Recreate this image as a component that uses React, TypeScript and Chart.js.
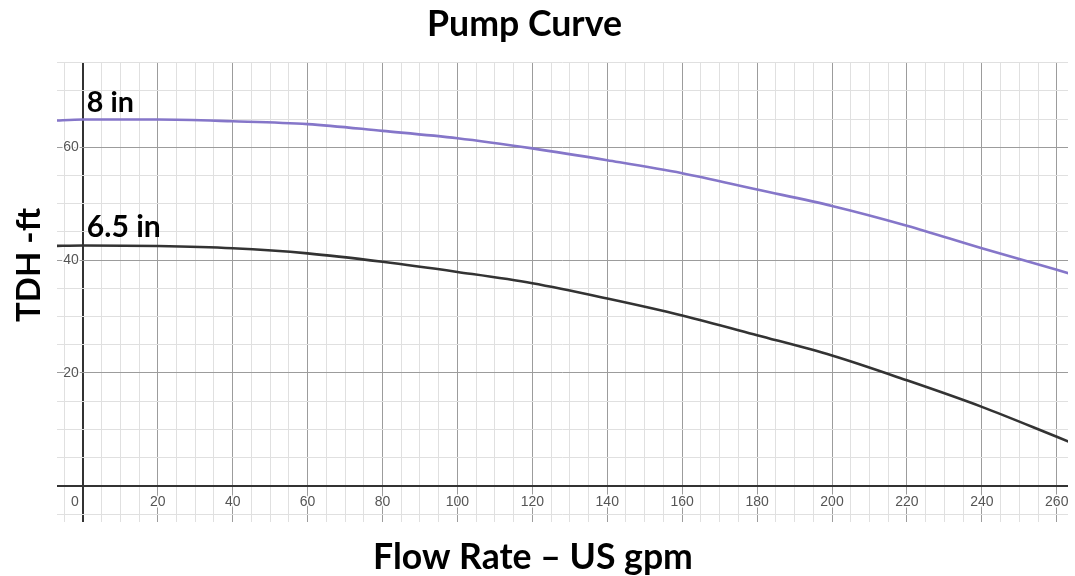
import { useEffect, useRef } from "react";
import { Chart, registerables } from "chart.js";

Chart.register(...registerables);

const TITLE = "Pump Curve";
const X_TITLE = "Flow Rate – US gpm";
const Y_TITLE = "TDH -ft";

const FLOW = [-8, 0, 20, 40, 60, 80, 100, 120, 140, 160, 180, 200, 220, 240, 260, 266];
const HEAD_8IN = [64.7, 64.9, 64.9, 64.6, 64.1, 62.9, 61.6, 59.8, 57.7, 55.4, 52.5, 49.6, 46.1, 42.1, 38.3, 37.1];
const HEAD_65IN = [42.5, 42.6, 42.5, 42.1, 41.2, 39.7, 37.9, 35.9, 33.2, 30.2, 26.7, 23.1, 18.7, 14.0, 8.7, 7.1];
const SERIES_LABELS = ["8 in", "6.5 in"];
const SERIES_COLORS = ["#8576c9", "#333333"];

const X_TICKS = [0, 20, 40, 60, 80, 100, 120, 140, 160, 180, 200, 220, 240, 260];
const Y_TICKS = [20, 40, 60];

const X_MIN = -6.9;
const X_MAX = 263.0;
const Y_MIN = -6.4;
const Y_MAX = 75.1;

function fitSize(ctx: CanvasRenderingContext2D, text: string, width: number, family: string) {
  ctx.font = `bold 100px ${family}`;
  const w = ctx.measureText(text).width;
  return (100 * width) / w;
}

const overlay = {
  id: "overlay",
  afterDraw(chart: any) {
    const { ctx, scales } = chart;
    const x = scales.x;
    const y = scales.y;
    const x0 = x.getPixelForValue(0);
    const y0 = y.getPixelForValue(0);
    ctx.save();

    // tick labels
    ctx.font = "14px 'Liberation Sans Narrow', 'Arial Narrow', 'Liberation Sans', sans-serif";
    ctx.fillStyle = "#555";
    ctx.strokeStyle = "#ffffff";
    ctx.lineWidth = 3;
    ctx.lineJoin = "round";
    ctx.textBaseline = "top";
    for (const v of X_TICKS) {
      const s = String(v);
      let px = x.getPixelForValue(v);
      if (v === 0) {
        ctx.textAlign = "right";
        px = x0 - 4;
      } else {
        ctx.textAlign = "center";
      }
      ctx.strokeText(s, px, y0 + 9);
      ctx.fillText(s, px, y0 + 9);
    }
    ctx.textAlign = "right";
    ctx.textBaseline = "middle";
    for (const v of Y_TICKS) {
      const s = String(v);
      const py = y.getPixelForValue(v);
      ctx.strokeText(s, x0 - 4, py);
      ctx.fillText(s, x0 - 4, py);
    }

    const fam = "Lato, 'Open Sans', sans-serif";
    ctx.fillStyle = "#000";

    // curve labels
    const heads = [HEAD_8IN[1], HEAD_65IN[1]];
    const widths = [47, 74];
    ctx.textAlign = "left";
    ctx.textBaseline = "alphabetic";
    SERIES_LABELS.forEach((lbl, i) => {
      const size = fitSize(ctx, lbl, widths[i], fam);
      ctx.font = `bold ${size}px ${fam}`;
      ctx.fillText(lbl, x0 + 4, y.getPixelForValue(heads[i]) - 8);
    });

    // title
    ctx.textAlign = "center";
    let size = fitSize(ctx, TITLE, 195, fam);
    ctx.font = `bold ${size}px ${fam}`;
    ctx.fillText(TITLE, 524.5, 36);

    // x title
    size = fitSize(ctx, X_TITLE, 320, fam);
    ctx.font = `bold ${size}px ${fam}`;
    ctx.fillText(X_TITLE, 533, 569);

    // y title
    size = fitSize(ctx, Y_TITLE, 114, fam);
    ctx.font = `bold ${size}px ${fam}`;
    ctx.translate(40, 265);
    ctx.rotate(-Math.PI / 2);
    ctx.fillText(Y_TITLE, 0, 0);

    ctx.restore();
  },
};

function gridColor(ctx: any) {
  const v = ctx.tick ? ctx.tick.value : 1;
  if (Math.abs(v) < 1e-9) return "#333333";
  if (Math.abs(v % 20) < 1e-9) return "#9c9c9c";
  return "#e0e0e0";
}
function gridWidth(ctx: any) {
  const v = ctx.tick ? ctx.tick.value : 1;
  if (Math.abs(v) < 1e-9) return 2;
  return 1;
}

export default function App() {
  const ref = useRef<HTMLCanvasElement>(null);
  useEffect(() => {
    if (!ref.current) return;
    const chart = new Chart(ref.current, {
      type: "line",
      data: {
        datasets: [
          {
            label: SERIES_LABELS[0],
            data: FLOW.map((f, i) => ({ x: f, y: HEAD_8IN[i] })),
            borderColor: SERIES_COLORS[0],
            borderWidth: 2.6,
            pointRadius: 0,
            cubicInterpolationMode: "monotone",
            fill: false,
          },
          {
            label: SERIES_LABELS[1],
            data: FLOW.map((f, i) => ({ x: f, y: HEAD_65IN[i] })),
            borderColor: SERIES_COLORS[1],
            borderWidth: 2.6,
            pointRadius: 0,
            cubicInterpolationMode: "monotone",
            fill: false,
          },
        ],
      },
      options: {
        animation: false,
        responsive: true,
        maintainAspectRatio: false,
        layout: { padding: { left: 57, top: 62, right: 7, bottom: 54 } },
        plugins: {
          legend: { display: false },
          title: { display: false },
          tooltip: { enabled: false },
        },
        scales: {
          x: {
            type: "linear",
            min: X_MIN,
            max: X_MAX,
            border: { display: false },
            ticks: { display: false, stepSize: 5, includeBounds: false },
            grid: { color: gridColor, lineWidth: gridWidth, drawTicks: false },
          },
          y: {
            type: "linear",
            min: Y_MIN,
            max: Y_MAX,
            border: { display: false },
            ticks: { display: false, stepSize: 5, includeBounds: false },
            grid: { color: gridColor, lineWidth: gridWidth, drawTicks: false },
          },
        },
      },
      plugins: [overlay],
    });
    return () => chart.destroy();
  }, []);
  return (
    <div style={{ position: "absolute", left: 0, top: 0, width: 1075, height: 576, background: "#fff" }}>
      <canvas ref={ref} />
    </div>
  );
}
